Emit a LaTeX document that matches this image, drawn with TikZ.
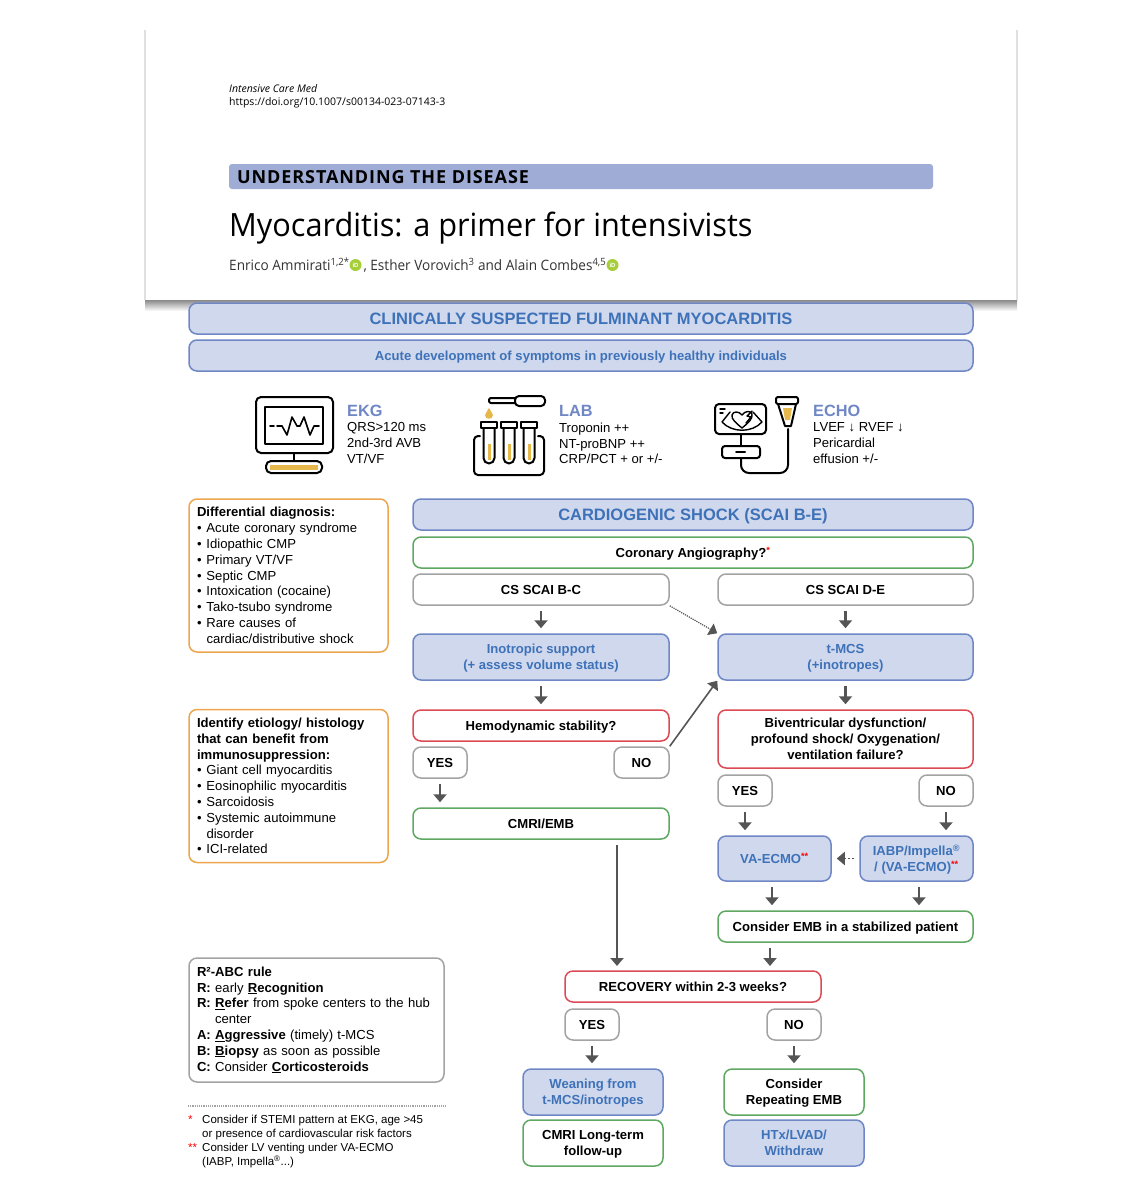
\documentclass[tikz,border=0pt]{standalone}
\usepackage{fontspec}
\setmainfont{Liberation Sans}
\newfontfamily\paperfont{Open Sans}
\newfontfamily\titlefont[FakeStretch=0.96]{Open Sans}
\newfontfamily\authorfont[FakeStretch=0.95]{Open Sans}
\newfontfamily\sectionfont[LetterSpace=5]{Open Sans}
\usetikzlibrary{arrows.meta,shadings}
\definecolor{azulfill}{HTML}{D0D8EE}
\definecolor{azuldraw}{HTML}{6F87C4}
\definecolor{azultext}{HTML}{3E72B8}
\definecolor{banda}{HTML}{9FADD6}
\definecolor{verde}{HTML}{5EA862}
\definecolor{rojo}{HTML}{DC4A55}
\definecolor{gris}{HTML}{A3A3A3}
\definecolor{naranja}{HTML}{EDA54E}
\definecolor{flechagris}{HTML}{555555}
\definecolor{amarillo}{HTML}{E6B84C}
\definecolor{orcid}{HTML}{A6CE39}
\newcommand{\rs}[1]{\textcolor{red}{#1}}
\newcommand{\bul}{\makebox[9.5pt][l]{•}}
\newcommand{\ind}{\hspace*{9.5pt}}
\tikzset{
  tam/.style 2 args={minimum width=#1pt, minimum height=#2pt},
  caja/.style={draw, rounded corners=8pt, line width=1.5pt, fill=white, align=center, inner sep=0pt, text depth=0pt,
    font=\fontsize{13.1}{15.8}\selectfont\bfseries},
  cajaazul/.style={caja, draw=azuldraw, fill=azulfill, text=azultext},
  cajaverde/.style={caja, draw=verde},
  cajaroja/.style={caja, draw=rojo},
  cajagris/.style={caja, draw=gris},
  cajanota/.style={caja, text depth=, align=left, font=\fontsize{13.1}{15.8}\selectfont},
  flecha/.style={-{Triangle[length=8pt,width=13pt]}, draw=flechagris, line width=2.2pt, shorten <=5pt, shorten >=5pt},
  icono/.style={line width=2pt, line join=round, line cap=round},
  titulo/.style={anchor=west, inner sep=0pt, text=azuldraw, font=\fontsize{16.3}{18}\selectfont\bfseries},
  datos/.style={anchor=north west, inner sep=0pt, align=left, font=\fontsize{13.1}{15.8}\selectfont},
  orcidmark/.style={circle, fill=orcid, text=white, inner sep=0pt, minimum size=12pt, font=\fontsize{6}{6}\selectfont\bfseries},
}
\begin{document}
\begin{tikzpicture}[x=1pt,y=-1pt]
  \useasboundingbox (0,0) rectangle (1144,1200);
  % paper header
  \shade[top color=black!50, bottom color=white] (145,299) rectangle (1017,311);
  \fill[white] (145,30) rectangle (1017,300);
  \draw[black!12, line width=1.2pt] (145,30) -- (145,300) (1017,30) -- (1017,300);
  \node[anchor=west, inner sep=0pt, font=\paperfont\fontsize{10.5}{12}\selectfont\itshape] (revista) at (229,88.5) {Intensive Care Med};
  \node[anchor=west, inner sep=0pt, font=\paperfont\fontsize{10.5}{12}\selectfont] (doi) at (229,102.5) {https://doi.org/10.1007/s00134-023-07143-3};
  \fill[banda, rounded corners=3pt] (229,164) rectangle (933,189);
  \node[anchor=west, inner sep=0pt, font=\sectionfont\fontsize{18}{20}\selectfont\bfseries] (seccion) at (237,177) {UNDERSTANDING THE DISEASE};
  \node[anchor=west, inner sep=0pt, font=\titlefont\fontsize{32}{36}\selectfont] (articulo) at (229,228) {Myocarditis: a primer for intensivists};
  \node[anchor=west, inner sep=0pt, text=black!80, font=\authorfont\fontsize{14.3}{16}\selectfont] (autores) at (229,265.5)
    {Enrico Ammirati\textsuperscript{1,2*}\hspace{14pt}, Esther Vorovich\textsuperscript{3} and Alain Combes\textsuperscript{4,5}};
  \node[orcidmark] (id1) at (355.5,265) {iD};
  \node[orcidmark] (id2) at (612.5,265) {iD};

  % top banners
  \node[cajaazul, tam={784}{31}, font=\fontsize{16.5}{20}\selectfont\bfseries] (fulminante) at (581,318.5) {CLINICALLY SUSPECTED FULMINANT MYOCARDITIS};
  \node[cajaazul, tam={784}{31}] (agudo) at (581,355.5) {Acute development of symptoms in previously healthy individuals};

  % EKG icon
  \draw[icono, rounded corners=5pt] (256,397) rectangle (333,453);
  \draw[icono] (265,407) rectangle (323,444);
  \draw[icono] (294,453) -- (294,461);
  \draw[icono, rounded corners=5pt] (266,461) rectangle (322,473);
  \fill[amarillo] (270,465) rectangle (318,470);
  \draw[icono, line width=1.6pt] (270,426) -- (274,426) (277,426) -- (282,426) -- (287,435) -- (292,417) -- (297,426) -- (300,426) -- (304,417) -- (310,435) -- (314,426) -- (319,426);
  \node[titulo] (ekg) at (347,411) {EKG};
  \node[datos] (ekgdatos) at (347,422.5) {QRS>120 ms\\2nd-3rd AVB\\VT/VF};

  % LAB icon
  \draw[icono, rounded corners=2pt] (515,398) -- (489,398) -- (489,403) -- (515,403);
  \draw[icono, rounded corners=4pt] (515,396) rectangle (545,406);
  \fill[amarillo] (489,408) .. controls (490,411) and (493,413) .. (493,415) .. controls (493,420) and (485,420) .. (485,415) .. controls (485,413) and (488,411) .. (489,408) -- cycle;
  \foreach \tx in {489,509,529} {
    \fill[amarillo] (\tx-1.5,444) rectangle (\tx+1.5,460);
    \draw[icono] (\tx-8,422) -- (\tx+8,422) -- (\tx+8,428) -- (\tx-8,428) -- cycle;
    \draw[icono] (\tx-5.5,428) -- (\tx-5.5,458) arc[start angle=180, end angle=0, x radius=5.5, y radius=5.5] -- (\tx+5.5,428);
  }
  \draw[icono, rounded corners=4pt] (480,436) -- (474,436) -- (474,475) -- (544,475) -- (544,436) -- (538,436);
  \node[titulo] (lab) at (559,411) {LAB};
  \node[datos] (labdatos) at (559,422.5) {Troponin ++\\NT-proBNP ++\\CRP/PCT + or +/-};

  % ECHO icon
  \draw[icono, rounded corners=4pt] (715,404) rectangle (766,434);
  \draw[icono, line width=1.4pt] (720,409) -- (725,409) (720,413) -- (723,413);
  \draw[icono, line width=1.4pt] (742,428) .. controls (736,423) and (731,419) .. (732,415) .. controls (733,411) and (739,411) .. (742,415) .. controls (745,411) and (750,410) .. (752,414) .. controls (753,419) and (748,423) .. (742,428);
  \draw[icono, line width=1.4pt] (730,412) -- (722,422) .. controls (732,433) and (752,433) .. (762,422) -- (753,412);
  \draw[icono, line width=1.4pt] (752,411) -- (747,416) -- (751,417) -- (746,423);
  \draw[icono] (741,434) -- (741,446);
  \draw[icono, rounded corners=3pt] (722,446) rectangle (760,458);
  \draw[icono] (736,452) -- (745,452);
  \draw[icono, rounded corners=8pt] (741,458) -- (741,473) -- (788,473) -- (788,429);
  \draw[icono, rounded corners=2pt] (776,397) -- (798,397) -- (798,404) -- (776,404) -- cycle;
  \draw[icono] (778,404) -- (785,426) -- (791,426) -- (796,404);
  \fill[amarillo] (783,408) -- (792,408) -- (790,420) -- (785,420) -- cycle;
  \node[titulo] (echo) at (813,411) {ECHO};
  \node[datos] (echodatos) at (813,422.5) {LVEF ↓ RVEF ↓\\Pericardial\\effusion +/-};

  % side boxes
  \node[cajanota, draw=naranja, tam={199}{153}, text width=183pt] (diferencial) at (288.5,575.5) {\textbf{Differential diagnosis:}\\
    \bul Acute coronary syndrome\\\bul Idiopathic CMP\\\bul Primary VT/VF\\\bul Septic CMP\\\bul Intoxication (cocaine)\\\bul Tako-tsubo syndrome\\\bul Rare causes of\\\ind cardiac/distributive shock};
  \node[cajanota, draw=naranja, tam={199}{153}, text width=183pt] (etiologia) at (288.5,786) {\textbf{Identify etiology/ histology}\\\textbf{that can benefit from}\\\textbf{immunosuppression:}\\
    \bul Giant cell myocarditis\\\bul Eosinophilic myocarditis\\\bul Sarcoidosis\\\bul Systemic autoimmune\\\ind disorder\\\bul ICI-related};
  \node[cajanota, draw=gris, tam={255}{124}, text width=239pt] (regla) at (316.5,1020) {\textbf{R²-ABC rule}\\
    \textbf{R:} early \textbf{\underline{R}ecognition}\\
    \textbf{R:} \textbf{\underline{R}efer} from spoke centers to the hub\\\hspace*{18pt}center\\
    \textbf{A:} \textbf{\underline{A}ggressive} (timely) t-MCS\\
    \textbf{B:} \textbf{\underline{B}iopsy} as soon as possible\\
    \textbf{C:} Consider \textbf{\underline{C}orticosteroids}};
  \draw[densely dotted, gris, line width=1.2pt] (188,1106) -- (446,1106);
  \node[anchor=north west, inner sep=0pt, align=left, font=\fontsize{11.5}{14}\selectfont] (notas) at (188,1115)
    {\makebox[14pt][l]{\rs{*}}Consider if STEMI pattern at EKG, age >45\\\hspace*{14pt}or presence of cardiovascular risk factors\\
     \makebox[14pt][l]{\rs{**}}Consider LV venting under VA-ECMO\\\hspace*{14pt}(IABP, Impella\textsuperscript{®}...)};

  % flow
  \node[cajaazul, tam={560}{31}, font=\fontsize{16.5}{20}\selectfont\bfseries] (shock) at (693,514.5) {CARDIOGENIC SHOCK (SCAI B-E)};
  \node[cajaverde, tam={560}{31}] (angio) at (693,552.5) {Coronary Angiography?\textsuperscript{\rs{*}}};
  \node[cajagris, tam={256}{31}] (scaibc) at (541,589.5) {CS SCAI B-C};
  \node[cajagris, tam={255}{31}] (scaide) at (845.5,589.5) {CS SCAI D-E};
  \node[cajaazul, tam={256}{46}] (inotrop) at (541,657) {Inotropic support\\(+ assess volume status)};
  \node[cajaazul, tam={255}{46}] (tmcs) at (845.5,657) {t-MCS\\(+inotropes)};
  \node[cajaroja, tam={256}{31}] (hemo) at (541,725.5) {Hemodynamic stability?};
  \node[cajaroja, tam={255}{58}] (biv) at (845.5,739) {Biventricular dysfunction/\\profound shock/ Oxygenation/\\ventilation failure?};
  \node[cajagris, tam={54}{31}] (si1) at (440,762.5) {YES};
  \node[cajagris, tam={55}{31}] (no1) at (641.5,762.5) {NO};
  \node[cajaverde, tam={256}{31}] (cmri) at (541,823.5) {CMRI/EMB};
  \node[cajagris, tam={54}{31}] (si2) at (745,790.5) {YES};
  \node[cajagris, tam={54}{31}] (no2) at (946,790.5) {NO};
  \node[cajaazul, tam={113}{45}] (vaecmo) at (774.5,858.5) {VA-ECMO\textsuperscript{\rs{**}}};
  \node[cajaazul, tam={113}{45}] (iabp) at (916.5,858.5) {IABP/Impella\textsuperscript{®}\\/ (VA-ECMO)\textsuperscript{\rs{**}}};
  \node[cajaverde, tam={255}{31}] (consemb) at (845.5,926.5) {Consider EMB in a stabilized patient};
  \node[cajaroja, tam={256}{31}] (recup) at (693,986.5) {RECOVERY within 2-3 weeks?};
  \node[cajagris, tam={54}{31}] (si3) at (592,1024.5) {YES};
  \node[cajagris, tam={54}{31}] (no3) at (794,1024.5) {NO};
  \node[cajaazul, tam={140}{46}] (weaning) at (593,1092) {Weaning from\\t-MCS/inotropes};
  \node[cajaverde, tam={140}{46}] (repetir) at (794,1092) {Consider\\Repeating EMB};
  \node[cajaverde, tam={140}{46}] (largo) at (593,1143) {CMRI Long-term\\follow-up};
  \node[cajaazul, tam={140}{46}] (htx) at (794,1143) {HTx/LVAD/\\Withdraw};
  \coordinate (recupA) at (617,971);
  \coordinate (recupB) at (770,971);

  \draw[flecha] (scaibc) -- (inotrop);
  \draw[flecha] (scaide) -- (tmcs);
  \draw[flecha] (inotrop) -- (hemo);
  \draw[flecha] (tmcs) -- (biv);
  \draw[flecha] (si1.south) -- (si1.south |- cmri.north);
  \draw[flecha] (si2.south) -- (si2.south |- vaecmo.north);
  \draw[flecha] (no2.south) -- (no2.south |- iabp.north);
  \draw[flecha] ([xshift=-2.5pt]vaecmo.south) -- ([xshift=-2.5pt]vaecmo.south |- consemb.north);
  \draw[flecha] ([xshift=2.5pt]iabp.south) -- ([xshift=2.5pt]iabp.south |- consemb.north);
  \draw[flecha] (recupA |- cmri.south) -- (recupA);
  \draw[flecha] (recupB |- consemb.south) -- (recupB);
  \draw[flecha] (si3) -- (si3 |- weaning.north);
  \draw[flecha] (no3) -- (no3 |- repetir.north);
  \draw[flecha, line width=1.6pt, shorten <=0pt, shorten >=0pt] (no1.north east) -- (tmcs.south west);
  \draw[flecha, line width=1.2pt, densely dotted, shorten <=0pt, shorten >=0pt] (scaibc.south east) -- (tmcs.north west);
  \draw[flecha, dotted, line width=1.8pt] (iabp.west) -- (vaecmo.east);
\end{tikzpicture}
\end{document}
